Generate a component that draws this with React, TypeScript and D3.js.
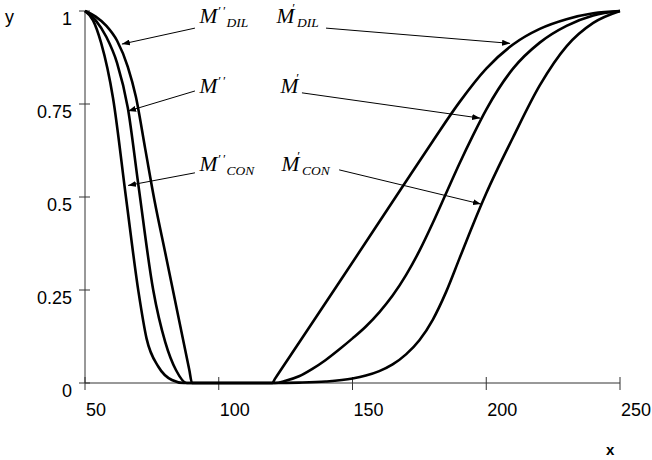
import * as d3 from "d3"

// curve values, x in the chart's units, y in 0..1
const conX = [50, 53, 56, 60.5, 65.3, 70, 73, 77.5, 82.5, 87, 121, 130, 140, 150, 155, 160, 165, 170, 175, 180, 185, 190, 195, 200, 210, 220, 230, 240, 250]
const conY = [1, 0.975, 0.915, 0.765, 0.5, 0.245, 0.12, 0.043, 0.008, 0, 0, 0.001, 0.004, 0.012, 0.02, 0.032, 0.05, 0.077, 0.115, 0.17, 0.245, 0.335, 0.425, 0.51, 0.66, 0.8, 0.905, 0.968, 1]

const midX = [50, 54, 58, 62, 66, 70, 75.5, 80, 84, 88, 121, 125, 130, 135, 140, 145, 150, 155, 160, 165, 170, 175, 180, 185, 190, 195, 200, 210, 220, 230, 240, 250]
const midY = [1, 0.975, 0.93, 0.86, 0.74, 0.53, 0.25, 0.11, 0.035, 0, 0, 0.006, 0.018, 0.038, 0.062, 0.09, 0.12, 0.152, 0.19, 0.235, 0.29, 0.355, 0.43, 0.51, 0.59, 0.665, 0.735, 0.845, 0.915, 0.96, 0.988, 1]

const dilX = [50, 54, 58, 62, 66, 69, 72.5, 76, 80, 85, 89, 90, 120, 121, 130, 145, 168, 180, 190, 200, 210, 220, 230, 240, 250]
const dilY = [1, 0.985, 0.96, 0.92, 0.85, 0.77, 0.63, 0.49, 0.35, 0.175, 0.035, 0, 0, 0.011, 0.108, 0.27, 0.52, 0.65, 0.755, 0.845, 0.91, 0.952, 0.978, 0.994, 1]

const xTicks = [50, 100, 150, 200, 250]
const yTicks = [0, 0.25, 0.5, 0.75, 1]
const yTickLabels = ["0", "0.25", "0.5", "0.75", "1"]

// annotations: label anchor and arrow (start -> tip), all in data units
const annMain = ["M", "M", "M", "M", "M", "M"]
const annPrimes = ["′′", "′", "′′", "′", "′′", "′"]
const annSub = ["DIL", "DIL", "", "", "CON", "CON"]
const annAt = [[92.8, 0.968], [121.6, 0.968], [92.8, 0.78], [123.1, 0.78], [92.8, 0.57], [123.5, 0.57]]
const annFrom = [[91.1, 0.954], [140.1, 0.954], [91.1, 0.785], [131.1, 0.78], [91.1, 0.565], [145, 0.573]]
const annTo = [[63.8, 0.911], [208.9, 0.913], [66.1, 0.731], [197.7, 0.712], [66.1, 0.531], [198, 0.481]]

const W = 652
const H = 460

export default function App() {
  const x = d3.scaleLinear().domain([50, 250]).range([85, 620])
  const y = d3.scaleLinear().domain([0, 1]).range([383, 11])

  const line = d3
    .line<[number, number]>()
    .x((d) => x(d[0]))
    .y((d) => y(d[1]))
    .curve(d3.curveMonotoneX)

  const series = [
    conX.map((v, i) => [v, conY[i]] as [number, number]),
    midX.map((v, i) => [v, midY[i]] as [number, number]),
    dilX.map((v, i) => [v, dilY[i]] as [number, number]),
  ]

  const sans = "'Liberation Sans', Arial, sans-serif"
  const serif = "'Liberation Serif', 'Times New Roman', serif"

  return (
    <svg
      width={W}
      height={H}
      style={{ position: "absolute", left: 0, top: 0, display: "block", background: "#fff" }}
    >
      <defs>
        <marker id="tip" markerUnits="userSpaceOnUse" markerWidth={8} markerHeight={6} refX={8} refY={3} orient="auto">
          <path d="M0,0 L8,3 L0,6 z" fill="#000" />
        </marker>
      </defs>

      {/* axes */}
      <line x1={x(50)} x2={x(50)} y1={y(1)} y2={y(0)} stroke="#333" strokeWidth={1} />
      <line x1={x(50)} x2={x(250)} y1={y(0)} y2={y(0)} stroke="#333" strokeWidth={1} />
      {yTicks.map((t, i) => (
        <g key={"yt" + t}>
          <line x1={x(50) - 6} x2={x(50) + 5} y1={y(t)} y2={y(t)} stroke="#333" />
          <text x={72} y={y(t) + 13.5} textAnchor="end" fontFamily={sans} fontSize={18} fill="#000">
            {yTickLabels[i]}
          </text>
        </g>
      ))}
      {xTicks.map((t) => (
        <g key={"xt" + t}>
          <line x1={x(t)} x2={x(t)} y1={y(0) - 6} y2={y(0) + 7} stroke="#333" />
          <text x={x(t) + 1} y={416} fontFamily={sans} fontSize={18} fill="#000">
            {t}
          </text>
        </g>
      ))}
      <text x={5} y={23} fontFamily={sans} fontSize={18} fill="#000">y</text>
      <text x={606} y={455} fontFamily={sans} fontSize={15} fontWeight="bold" fill="#000">x</text>

      {/* curves */}
      {series.map((s, i) => (
        <path key={"s" + i} d={line(s) ?? ""} fill="none" stroke="#000" strokeWidth={2.6} strokeLinejoin="round" />
      ))}

      {/* labels with arrows */}
      {annMain.map((m, i) => {
        const lx = x(annAt[i][0])
        const ly = y(annAt[i][1])
        const two = annPrimes[i].length > 1
        return (
          <g key={"a" + i}>
            <line
              x1={x(annFrom[i][0])}
              y1={y(annFrom[i][1])}
              x2={x(annTo[i][0])}
              y2={y(annTo[i][1])}
              stroke="#000"
              strokeWidth={1}
              markerEnd="url(#tip)"
            />
            <text x={lx} y={ly} fontFamily={serif} fontStyle="italic" fontSize={21.5} fill="#000">
              {m}
            </text>
            <text
              x={lx + (two ? 18 : 15)}
              y={ly - (two ? 8 : 11)}
              fontFamily={serif}
              fontStyle="italic"
              fontSize={13}
              letterSpacing={two ? 2 : 0}
              fill="#000"
            >
              {annPrimes[i]}
            </text>
            {annSub[i] && (
              <text x={lx + (two ? 27 : 20.5)} y={ly + 4} fontFamily={serif} fontStyle="italic" fontSize={13.5} fill="#000">
                {annSub[i]}
              </text>
            )}
          </g>
        )
      })}
    </svg>
  )
}
